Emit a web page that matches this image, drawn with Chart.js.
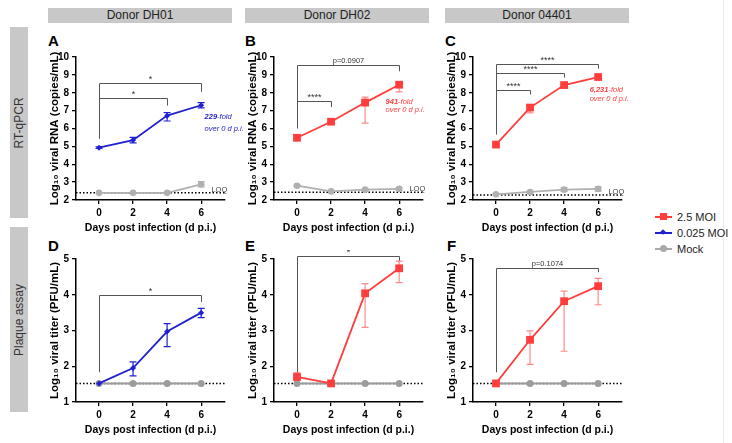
<!DOCTYPE html>
<html><head><meta charset="utf-8">
<script src="https://cdn.jsdelivr.net/npm/chart.js@4.4.1/dist/chart.umd.min.js"></script>
<style>
html,body{margin:0;padding:0;background:#fff;}
body{width:732px;height:443px;position:relative;overflow:hidden;font-family:"Liberation Sans",Arial,Helvetica,sans-serif;}
.hdr{position:absolute;top:8px;height:15px;background:#c8c8c8;color:#222;font-size:12px;line-height:15px;text-align:center;}
.side{position:absolute;left:10px;width:18px;background:#c8c8c8;}
.side span{position:absolute;left:50%;top:50%;transform:translate(-50%,-50%) rotate(-90deg);white-space:nowrap;font-size:12px;color:#333;}
.lbl{position:absolute;font-weight:bold;font-size:15px;line-height:15px;color:#000;}
canvas{position:absolute;}
.leg{position:absolute;left:655px;height:14px;font-size:11px;line-height:14px;color:#222;white-space:nowrap;}
.leg .ln{position:absolute;left:0;top:6px;width:17px;height:1.5px;}
.leg .mk{position:absolute;}
.leg .tx{position:absolute;left:22px;top:0;}
.edge{position:absolute;left:723px;top:0;width:1px;height:443px;background:#ededed;}
</style></head>
<body>
<div class="hdr" style="left:48px;width:184px;">Donor DH01</div>
<div class="hdr" style="left:245px;width:184px;">Donor DH02</div>
<div class="hdr" style="left:445px;width:184px;">Donor 04401</div>
<div class="side" style="top:27px;height:191px;"><span>RT-qPCR</span></div>
<div class="side" style="top:227px;height:185px;"><span>Plaque assay</span></div>
<div class="lbl" style="left:48px;top:33px;">A</div>
<div class="lbl" style="left:245px;top:33px;">B</div>
<div class="lbl" style="left:445px;top:33px;">C</div>
<div class="lbl" style="left:48px;top:238px;">D</div>
<div class="lbl" style="left:245px;top:238px;">E</div>
<div class="lbl" style="left:447px;top:238px;">F</div>
<div class="edge"></div>
<div class="leg" style="top:210px;"><div class="ln" style="background:#ff3d3d"></div><div class="mk" style="left:5px;top:3px;width:7px;height:7px;background:#ff3d3d"></div><div class="tx">2.5 MOI</div></div>
<div class="leg" style="top:226px;"><div class="ln" style="background:#2020d0"></div><div class="mk" style="left:6px;top:4px;width:4px;height:4px;background:#2020d0;transform:rotate(45deg)"></div><div class="tx">0.025 MOI</div></div>
<div class="leg" style="top:242px;"><div class="ln" style="background:#a9a9a9"></div><div class="mk" style="left:5px;top:3px;width:7px;height:7px;border-radius:50%;background:#a9a9a9"></div><div class="tx">Mock</div></div>
<script>
const FONT = '"Liberation Sans", Arial, Helvetica, sans-serif';
const days = [0, 2, 4, 6];
const xRange = [-1.35, 7.4];
const rnaTicks = [2, 3, 4, 5, 6, 7, 8, 9, 10];
const pfuTicks = [1, 2, 3, 4, 5];

// Panel A: Donor DH01, RT-qPCR (log10 copies/mL), 0.025 MOI
const rnaDH01 = [4.93, 5.35, 6.72, 7.30];
const rnaDH01Hi = [0.05, 0.15, 0.17, 0.15];
const rnaDH01Lo = [0.05, 0.15, 0.30, 0.15];
const rnaDH01Mock = [2.40, 2.40, 2.40, 2.88];
const rnaDH01MockErr = [0, 0, 0, 0.15];
const loqDH01 = 2.40;

// Panel B: Donor DH02, RT-qPCR, 2.5 MOI
const rnaDH02 = [5.48, 6.38, 7.45, 8.45];
const rnaDH02Hi = [0.05, 0.06, 0.30, 0.15];
const rnaDH02Lo = [0.05, 0.06, 1.15, 0.40];
const rnaDH02Mock = [2.80, 2.48, 2.58, 2.62];
const rnaDH02MockErr = [0.04, 0.04, 0.05, 0.08];
const loqDH02 = 2.43;

// Panel C: Donor 04401, RT-qPCR, 2.5 MOI
const rna04401 = [5.10, 7.17, 8.43, 8.88];
const rna04401Hi = [0.05, 0.12, 0.05, 0.05];
const rna04401Lo = [0.05, 0.30, 0.05, 0.05];
const rna04401Mock = [2.32, 2.45, 2.58, 2.62];
const rna04401MockErr = [0.03, 0.05, 0.10, 0.12];
const loq04401 = 2.28;

// Panel D: Donor DH01, plaque assay (log10 PFU/mL), 0.025 MOI
const pfuDH01 = [1.52, 1.95, 2.97, 3.50];
const pfuDH01Hi = [0, 0.17, 0.22, 0.12];
const pfuDH01Lo = [0, 0.22, 0.42, 0.14];
const pfuDH01Mock = [1.52, 1.52, 1.52, 1.52];
const loqPfu = 1.52;

// Panel E: Donor DH02, plaque assay, 2.5 MOI
const pfuDH02 = [1.70, 1.52, 4.04, 4.74];
const pfuDH02Hi = [0.12, 0.03, 0.27, 0.20];
const pfuDH02Lo = [0.08, 0.03, 0.95, 0.40];
const pfuDH02Mock = [1.52, 1.52, 1.52, 1.52];

// Panel F: Donor 04401, plaque assay, 2.5 MOI
const pfu04401 = [1.52, 2.74, 3.82, 4.24];
const pfu04401Hi = [0, 0.25, 0.28, 0.22];
const pfu04401Lo = [0, 0.69, 1.40, 0.52];
const pfu04401Mock = [1.52, 1.52, 1.52, 1.52];

const RED = '#ff3d3d', RED_ERR = '#ff8a8a', BLUE = '#2020d0', GRAY = '#b0b0b0', GRAY2 = '#9c9c9c';
const BR = '#555';

const pts = (vals) => days.map((d, i) => ({x: d, y: vals[i]}));

const errorBars = {
  id: 'errorBars',
  beforeDatasetsDraw(chart) {
    const {ctx, scales: {x, y}} = chart;
    ctx.save();
    chart.data.datasets.forEach(ds => {
      if (!ds.errHi) return;
      ctx.strokeStyle = ds.errColor || ds.borderColor;
      ctx.lineWidth = 1.2;
      ds.data.forEach((p, i) => {
        const hi = ds.errHi[i], lo = ds.errLo[i];
        if (!hi && !lo) return;
        const px = x.getPixelForValue(p.x);
        const yt = y.getPixelForValue(p.y + hi), yb = y.getPixelForValue(p.y - lo);
        ctx.beginPath();
        ctx.moveTo(px, yt); ctx.lineTo(px, yb);
        ctx.moveTo(px - 3.5, yt); ctx.lineTo(px + 3.5, yt);
        ctx.moveTo(px - 3.5, yb); ctx.lineTo(px + 3.5, yb);
        ctx.stroke();
      });
    });
    ctx.restore();
  }
};

const notes = {
  id: 'notes',
  afterDatasetsDraw(chart, args, opts) {
    const {ctx, scales: {x, y}} = chart;
    ctx.save();
    ctx.strokeStyle = BR; ctx.lineWidth = 1;
    (opts.brackets || []).forEach(b => {
      const xa = Math.round(x.getPixelForValue(b.x0)) + 0.5, xb = Math.round(x.getPixelForValue(b.x1)) + 0.5;
      const yy = Math.round(y.getPixelForValue(b.y)) + 0.5;
      ctx.beginPath();
      ctx.moveTo(xa, yy); ctx.lineTo(xb, yy); ctx.lineTo(xb, y.getPixelForValue(b.yEnd));
      if (b.yStart !== undefined) { ctx.moveTo(xa, yy); ctx.lineTo(xa, y.getPixelForValue(b.yStart)); }
      ctx.stroke();
      ctx.fillStyle = '#333';
      ctx.font = (b.size || 9) + 'px ' + FONT;
      ctx.textAlign = 'center'; ctx.textBaseline = 'bottom';
      ctx.fillText(b.label, (xa + xb) / 2, yy - (b.label.startsWith('*') ? -1 : 1));
    });
    (opts.texts || []).forEach(t => {
      let px = x.getPixelForValue(t.x);
      const py = y.getPixelForValue(t.y);
      ctx.fillStyle = t.color; ctx.textAlign = 'left'; ctx.textBaseline = 'middle';
      t.parts.forEach(p => {
        ctx.font = (t.italic ? 'italic ' : '') + (p.bold ? 'bold ' : '') + t.size + 'px ' + FONT;
        ctx.fillText(p.t, px, py);
        px += ctx.measureText(p.t).width;
      });
    });
    ctx.restore();
  }
};

const CW = 211, CH = 188;

function panel(left, top, yTicks, yTitle, datasets, annot) {
  const cv = document.createElement('canvas');
  cv.width = CW; cv.height = CH;
  cv.style.left = left + 'px'; cv.style.top = top + 'px';
  cv.style.width = CW + 'px'; cv.style.height = CH + 'px';
  document.body.appendChild(cv);
  new Chart(cv, {
    type: 'line',
    data: {datasets},
    plugins: [errorBars, notes],
    options: {
      responsive: false, animation: false, devicePixelRatio: 1,
      layout: {padding: {top: 6, right: 30, left: 0, bottom: 0}},
      plugins: {legend: {display: false}, tooltip: {enabled: false}, notes: annot},
      scales: {
        x: {
          type: 'linear', min: xRange[0], max: xRange[1],
          afterBuildTicks: s => { s.ticks = days.map(v => ({value: v})); },
          afterFit: s => { s.height = 36; },
          grid: {display: true, drawOnChartArea: false, drawTicks: true, tickLength: 4, color: '#000', lineWidth: 1.3},
          border: {display: true, color: '#000', width: 1.5},
          ticks: {color: '#000', font: {size: 10, weight: 'bold', family: FONT}, padding: 3, maxRotation: 0, autoSkip: false},
          title: {display: true, text: 'Days post infection (d p.i.)', color: '#000', font: {size: 10.5, weight: 'bold', family: FONT}, padding: {top: 0, bottom: 2}}
        },
        y: {
          type: 'linear', min: yTicks[0], max: yTicks[yTicks.length - 1],
          afterBuildTicks: s => { s.ticks = yTicks.map(v => ({value: v})); },
          afterFit: s => { s.width = 32; },
          grid: {display: true, drawOnChartArea: false, drawTicks: true, tickLength: 4, color: '#000', lineWidth: 1.3},
          border: {display: true, color: '#000', width: 1.5},
          ticks: {color: '#000', font: {size: 10, weight: 'bold', family: FONT}, padding: 3},
          title: {display: true, text: yTitle, color: '#000', font: {size: 11.5, weight: 'bold', family: FONT}, padding: {top: 4, bottom: 0}}
        }
      }
    }
  });
}

function series(vals, hi, lo, color, errColor, style, radius, width) {
  return {data: pts(vals), errHi: hi, errLo: lo, errColor, borderColor: color, backgroundColor: color,
    pointBackgroundColor: color, pointBorderWidth: 0, pointStyle: style, pointRadius: radius, borderWidth: width, tension: 0};
}
function loq(v) {
  return {data: [{x: xRange[0], y: v}, {x: xRange[1], y: v}], borderColor: '#000', borderWidth: 1.5,
    borderDash: [1.5, 2], pointRadius: 0, tension: 0};
}
const loqText = (v) => ({x: 6.6, y: v + 0.17, color: '#444', size: 7.5, italic: false, parts: [{t: 'LOQ'}]});

const rnaTitle = 'Log\u2081\u2080 viral RNA (copies/mL)';
const pfuTitle = 'Log\u2081\u2080 viral titer (PFU/mL)';
const TOP = 48, BOT = 250;

// A
panel(44, TOP, rnaTicks, rnaTitle, [
  series(rnaDH01, rnaDH01Hi, rnaDH01Lo, BLUE, BLUE, 'rectRot', 3, 1.8),
  series(rnaDH01Mock, rnaDH01MockErr, rnaDH01MockErr, GRAY, GRAY, 'circle', 3.3, 1.8),
  loq(loqDH01)
], {
  brackets: [
    {x0: 0, x1: 6, y: 8.53, yEnd: 8.05, yStart: 5.42, label: '*'},
    {x0: 0, x1: 4, y: 7.73, yEnd: 7.28, label: '*'}
  ],
  texts: [
    {x: 6.2, y: 6.63, color: BLUE, size: 7.5, italic: true, parts: [{t: '229', bold: true}, {t: '-fold'}]},
    {x: 6.2, y: 6.0, color: BLUE, size: 7.5, italic: true, parts: [{t: 'over 0 d p.i.'}]},
    loqText(loqDH01)
  ]
});

// B
panel(242, TOP, rnaTicks, rnaTitle, [
  series(rnaDH02, rnaDH02Hi, rnaDH02Lo, RED, RED_ERR, 'rect', 5.5, 1.8),
  series(rnaDH02Mock, rnaDH02MockErr, rnaDH02MockErr, GRAY, GRAY, 'circle', 3.3, 1.8),
  loq(loqDH02)
], {
  brackets: [
    {x0: 0, x1: 6, y: 9.55, yEnd: 9.2, yStart: 6.0, label: 'p=0.0907', size: 7.5},
    {x0: 0, x1: 2, y: 7.55, yEnd: 7.2, label: '****'}
  ],
  texts: [
    {x: 5.2, y: 7.5, color: RED, size: 7.5, italic: true, parts: [{t: '941', bold: true}, {t: '-fold'}]},
    {x: 5.2, y: 7.05, color: RED, size: 7.5, italic: true, parts: [{t: 'over 0 d p.i.'}]},
    loqText(loqDH02)
  ]
});

// C
panel(441, TOP, rnaTicks, rnaTitle, [
  series(rna04401, rna04401Hi, rna04401Lo, RED, RED_ERR, 'rect', 5.5, 1.8),
  series(rna04401Mock, rna04401MockErr, rna04401MockErr, GRAY, GRAY, 'circle', 3.3, 1.8),
  loq(loq04401)
], {
  brackets: [
    {x0: 0, x1: 6, y: 9.6, yEnd: 9.35, yStart: 5.66, label: '****'},
    {x0: 0, x1: 4, y: 9.1, yEnd: 8.85, label: '****'},
    {x0: 0, x1: 2, y: 8.14, yEnd: 7.9, label: '****'}
  ],
  texts: [
    {x: 5.5, y: 8.14, color: RED, size: 7.5, italic: true, parts: [{t: '6,231', bold: true}, {t: '-fold'}]},
    {x: 5.5, y: 7.68, color: RED, size: 7.5, italic: true, parts: [{t: 'over 0 d p.i.'}]},
    loqText(loq04401)
  ]
});

// D
panel(44, BOT, pfuTicks, pfuTitle, [
  series(pfuDH01, pfuDH01Hi, pfuDH01Lo, BLUE, BLUE, 'rectRot', 3, 1.8),
  series(pfuDH01Mock, null, null, GRAY2, GRAY2, 'circle', 3.5, 2),
  loq(loqPfu)
], {
  brackets: [{x0: 0, x1: 6, y: 4.0, yEnd: 3.8, yStart: 1.83, label: '*'}]
});

// E
panel(242, BOT, pfuTicks, pfuTitle, [
  series(pfuDH02, pfuDH02Hi, pfuDH02Lo, RED, RED_ERR, 'rect', 5.5, 1.8),
  series(pfuDH02Mock, null, null, GRAY2, GRAY2, 'circle', 3.5, 2),
  loq(loqPfu)
], {
  brackets: [{x0: 0, x1: 6, y: 5.08, yEnd: 4.95, yStart: 1.83, label: '*'}]
});

// F
panel(441, BOT, pfuTicks, pfuTitle, [
  series(pfu04401, pfu04401Hi, pfu04401Lo, RED, RED_ERR, 'rect', 5.5, 1.8),
  series(pfu04401Mock, null, null, GRAY2, GRAY2, 'circle', 3.5, 2),
  loq(loqPfu)
], {
  brackets: [{x0: 0, x1: 6, y: 4.75, yEnd: 4.63, yStart: 1.83, label: 'p=0.1074', size: 7.5}]
});
</script>
</body></html>
